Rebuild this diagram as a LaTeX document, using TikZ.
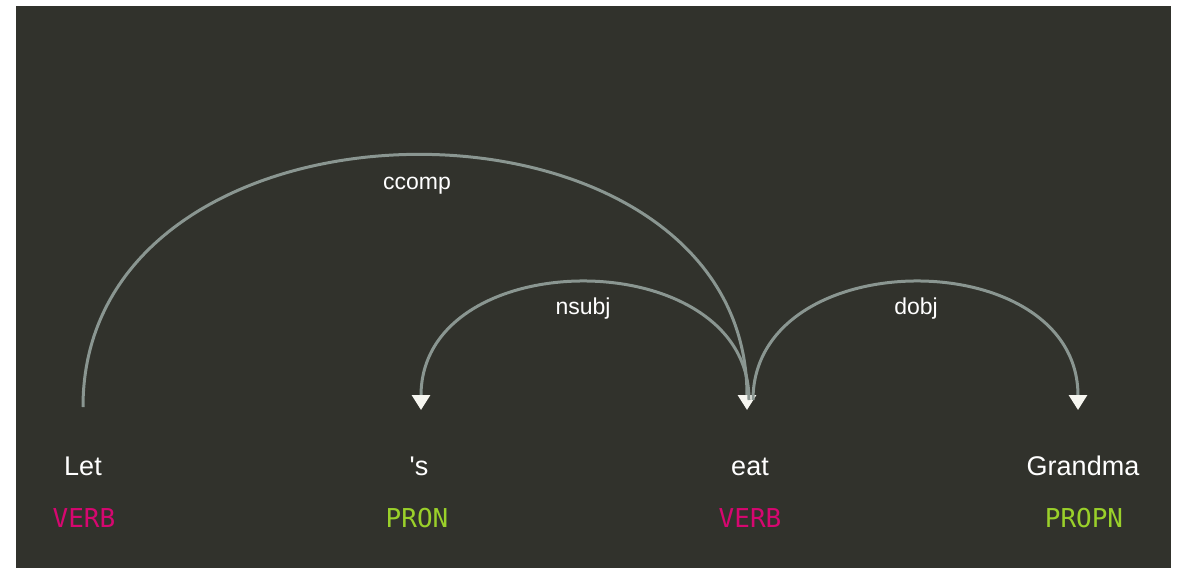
\documentclass[tikz,border=0pt]{standalone}
\usepackage{fontspec}
\setmainfont{Liberation Sans}
\newfontfamily\posfont{DejaVu Sans Mono}
\usetikzlibrary{arrows.meta}
\definecolor{bgdark}{RGB}{49,50,44}
\definecolor{arcgray}{RGB}{138,150,145}
\definecolor{tipwhite}{RGB}{246,246,240}
\definecolor{verbc}{RGB}{214,7,112}
\definecolor{nounc}{RGB}{154,208,42}
\tikzset{
  word/.style={text=white, anchor=base, inner sep=0pt, font=\fontsize{27}{30}\selectfont},
  postag/.style={anchor=base, inner sep=0pt, font=\posfont\fontsize{26}{30}\selectfont},
  deplabel/.style={text=white, anchor=base, inner sep=0pt, font=\fontsize{23}{26}\selectfont},
  deparc/.style={draw=arcgray, line width=3pt, -{Triangle[width=18pt,length=15pt,color=tipwhite]}}
}
\begin{document}
\begin{tikzpicture}[x=1pt,y=-1pt]
\useasboundingbox (0,0) rectangle (1178,568);
\fill[white] (0,0) rectangle (1178,568);
\fill[bgdark] (16,6) rectangle (1171,568);

% words
\node[word] (w1) at (83,475) {Let};
\node[word] (w2) at (419,475) {\textquotesingle s};
\node[word] (w3) at (750,475) {eat};
\node[word] (w4) at (1083,475) {Grandma};
% tags
\node[postag, text=verbc] (t1) at (84,527) {VERB};
\node[postag, text=nounc] (t2) at (417,527) {PRON};
\node[postag, text=verbc] (t3) at (750,527) {VERB};
\node[postag, text=nounc] (t4) at (1084,527) {PROPN};

% arc end points
\coordinate (s1) at (83,407);
\coordinate (e3a) at (747,410);
\coordinate (s3b) at (749,400);
\coordinate (e2) at (421,410);
\coordinate (s3c) at (753,400);
\coordinate (e4) at (1078,410);

% arcs
\draw[deparc] (s1) .. controls (83,72) and (747,72) .. (e3a);
\draw[deparc] (s3b) .. controls (749,242) and (421,242) .. (e2);
\draw[deparc] (s3c) .. controls (753,242) and (1078,242) .. (e4);

% labels
\node[deplabel] (l1) at (417,189) {ccomp};
\node[deplabel] (l2) at (583,314) {nsubj};
\node[deplabel] (l3) at (916,314) {dobj};
\end{tikzpicture}
\end{document}
